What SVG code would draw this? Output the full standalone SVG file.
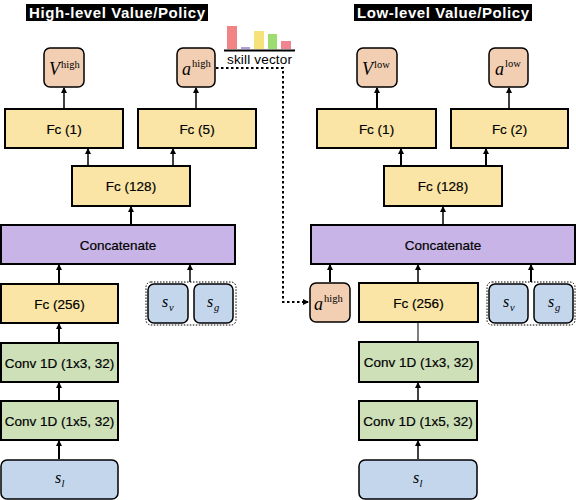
<svg xmlns="http://www.w3.org/2000/svg" width="576" height="500" viewBox="0 0 576 500">
<defs>
<marker id="ah" markerWidth="6" markerHeight="6" refX="5" refY="3" orient="auto" markerUnits="userSpaceOnUse">
<path d="M0,0 L6,3 L0,6 Z" fill="#000"/>
</marker>
<style>
.t{font-family:"Liberation Sans",Arial,sans-serif;font-size:13.5px;fill:#000;stroke:#000;stroke-width:0.2;text-anchor:middle}
.title{font-family:"Liberation Sans",Arial,sans-serif;font-size:15px;font-weight:bold;fill:#fff;text-anchor:middle}
.m{font-family:"Liberation Serif","Times New Roman",serif;fill:#000}
.fc{fill:#fbe5a6;stroke:#000;stroke-width:2}
.cv{fill:#cde0b8;stroke:#000;stroke-width:2}
.cc{fill:#c8b4e6;stroke:#000;stroke-width:2}
.pe{fill:#f2cfb2;stroke:#000;stroke-width:1.5}
.bl{fill:#c3d6ec;stroke:#000;stroke-width:1.5}
.grp{fill:none;stroke:#000;stroke-width:1;stroke-dasharray:1.5,1.5}
.a{stroke:#000;stroke-width:1.5;fill:none;marker-end:url(#ah)}
.a2{stroke:#000;stroke-width:2;fill:none;marker-end:url(#ah)}
.l{stroke:#000;stroke-width:1;fill:none}
.dot{stroke:#000;stroke-width:2;fill:none;stroke-dasharray:2.5,2.5;marker-end:url(#ah)}
</style>
</defs>

<g id="title-high"><rect x="26" y="4" width="182" height="17" fill="#000"/><text class="title" x="117" y="18" textLength="176">High-level Value/Policy</text></g>
<g id="title-low"><rect x="354" y="4" width="178" height="17" fill="#000"/><text class="title" x="443" y="18" textLength="172">Low-level Value/Policy</text></g>

<g id="skill-vector">
<rect x="227" y="26" width="10" height="23" fill="#f08484"/>
<rect x="241" y="47" width="9" height="2" fill="#b39ddb"/>
<rect x="254" y="31" width="10" height="18" fill="#f7e27a"/>
<rect x="268" y="34" width="9" height="15" fill="#9cdc70"/>
<rect x="281" y="41" width="10" height="8" fill="#f08490"/>
<line x1="224" y1="50.5" x2="295" y2="50.5" stroke="#000" stroke-width="2"/>
<text x="259.5" y="64" textLength="65" style="font-family:'Liberation Sans',Arial,sans-serif;font-size:13.5px;text-anchor:middle">skill vector</text>
</g>

<!-- High-level column -->
<g id="h-vhigh"><rect class="pe" x="44" y="48" width="40" height="39" rx="6"/><text class="m" x="49" y="75" font-size="18" font-style="italic">V</text><text class="m" x="61" y="68" font-size="10.5">high</text></g>
<g id="h-ahigh"><rect class="pe" x="177" y="48" width="38" height="39" rx="6"/><text class="m" x="182" y="75" font-size="18" font-style="italic">a</text><text class="m" x="192" y="67" font-size="10.5">high</text></g>
<g id="h-fc1"><rect class="fc" x="5" y="109" width="118" height="39"/><text class="t" x="64" y="133.5">Fc (1)</text></g>
<g id="h-fc5"><rect class="fc" x="138" y="109" width="118" height="39"/><text class="t" x="197" y="133.5">Fc (5)</text></g>
<g id="h-fc128"><rect class="fc" x="72" y="166" width="118" height="40"/><text class="t" x="131" y="190.5">Fc (128)</text></g>
<g id="h-concat"><rect class="cc" x="1" y="225" width="234" height="39"/><text class="t" x="118" y="249.5">Concatenate</text></g>
<g id="h-fc256"><rect class="fc" x="1" y="284" width="117" height="39"/><text class="t" x="59.5" y="308.5">Fc (256)</text></g>
<g id="h-state">
<rect class="grp" x="146" y="282" width="90" height="43" rx="5"/>
<rect class="bl" x="148" y="284" width="40" height="39" rx="6"/><text class="m" x="162" y="307" font-size="16" font-style="italic">s</text><text class="m" x="169" y="311" font-size="10.5" font-style="italic">v</text>
<rect class="bl" x="194" y="284" width="39" height="39" rx="6"/><text class="m" x="207" y="307" font-size="16" font-style="italic">s</text><text class="m" x="214" y="311" font-size="10.5" font-style="italic">g</text>
</g>
<g id="h-conv3"><rect class="cv" x="1" y="343" width="117" height="39"/><text class="t" x="59.5" y="367.5">Conv 1D (1x3, 32)</text></g>
<g id="h-conv5"><rect class="cv" x="1" y="401" width="117" height="39"/><text class="t" x="59.5" y="425.5">Conv 1D (1x5, 32)</text></g>
<g id="h-sl"><rect class="bl" x="1" y="460" width="117" height="39" rx="6"/><text class="m" x="55" y="483" font-size="16" font-style="italic">s</text><text class="m" x="61.5" y="487" font-size="10.5" font-style="italic">l</text></g>

<!-- Low-level column -->
<g id="l-vlow"><rect class="pe" x="357" y="48" width="40" height="39" rx="6"/><text class="m" x="362" y="75" font-size="18" font-style="italic">V</text><text class="m" x="374" y="68" font-size="10.5">low</text></g>
<g id="l-alow"><rect class="pe" x="489" y="48" width="39" height="39" rx="6"/><text class="m" x="495" y="75" font-size="18" font-style="italic">a</text><text class="m" x="505" y="67" font-size="10.5">low</text></g>
<g id="l-fc1"><rect class="fc" x="317" y="109" width="119" height="39"/><text class="t" x="376.5" y="133.5">Fc (1)</text></g>
<g id="l-fc2"><rect class="fc" x="451" y="109" width="117" height="39"/><text class="t" x="509.5" y="133.5">Fc (2)</text></g>
<g id="l-fc128"><rect class="fc" x="384" y="166" width="118" height="40"/><text class="t" x="443" y="190.5">Fc (128)</text></g>
<g id="l-concat"><rect class="cc" x="311" y="225" width="264" height="39"/><text class="t" x="443" y="249.5">Concatenate</text></g>
<g id="l-ahigh"><rect class="pe" x="310" y="283" width="40" height="39" rx="6"/><text class="m" x="314" y="310" font-size="18" font-style="italic">a</text><text class="m" x="324" y="302" font-size="10.5">high</text></g>
<g id="l-fc256"><rect class="fc" x="359" y="283" width="119" height="39"/><text class="t" x="418.5" y="307.5">Fc (256)</text></g>
<g id="l-state">
<rect class="grp" x="487" y="282" width="88" height="43" rx="5"/>
<rect class="bl" x="489" y="284" width="39" height="39" rx="6"/><text class="m" x="503" y="307" font-size="16" font-style="italic">s</text><text class="m" x="510" y="311" font-size="10.5" font-style="italic">v</text>
<rect class="bl" x="534" y="284" width="39" height="39" rx="6"/><text class="m" x="548" y="307" font-size="16" font-style="italic">s</text><text class="m" x="555" y="311" font-size="10.5" font-style="italic">g</text>
</g>
<g id="l-conv3"><rect class="cv" x="359" y="342" width="119" height="40"/><text class="t" x="418.5" y="366.5">Conv 1D (1x3, 32)</text></g>
<g id="l-conv5"><rect class="cv" x="359" y="401" width="118" height="39"/><text class="t" x="418" y="425.5">Conv 1D (1x5, 32)</text></g>
<g id="l-sl"><rect class="bl" x="359" y="460" width="118" height="39" rx="6"/><text class="m" x="413" y="483" font-size="16" font-style="italic">s</text><text class="m" x="419.5" y="487" font-size="10.5" font-style="italic">l</text></g>

<g id="connectors">
<line class="a" x1="64" y1="108" x2="64" y2="88"/>
<line class="a" x1="196" y1="108" x2="196" y2="88"/>
<line class="a" x1="88" y1="165" x2="88" y2="149"/>
<line class="a" x1="173" y1="165" x2="173" y2="149"/>
<line class="a2" x1="131" y1="224" x2="131" y2="207"/>
<line class="a2" x1="59" y1="283" x2="59" y2="265"/>
<line class="a" x1="190" y1="282" x2="190" y2="265"/>
<line class="a2" x1="59" y1="342" x2="59" y2="324"/>
<line class="a2" x1="59" y1="400" x2="59" y2="383"/>
<line class="a2" x1="59" y1="459" x2="59" y2="441"/>

<line class="a2" x1="377" y1="108" x2="377" y2="88"/>
<line class="a" x1="509" y1="108" x2="509" y2="88"/>
<line class="a2" x1="401" y1="165" x2="401" y2="149"/>
<line class="a2" x1="486" y1="165" x2="486" y2="149"/>
<line class="a" x1="443" y1="224" x2="443" y2="207"/>
<line class="a2" x1="330" y1="282" x2="330" y2="265"/>
<line class="a" x1="418" y1="282" x2="418" y2="265"/>
<line class="a2" x1="531" y1="282" x2="531" y2="265"/>
<line class="l" x1="418" y1="341" x2="418" y2="323"/>
<line class="a" x1="418" y1="400" x2="418" y2="383"/>
<line class="a" x1="418" y1="459" x2="418" y2="441"/>

<polyline class="dot" points="216,68 283,68 283,302 308,302"/>
</g>
</svg>
